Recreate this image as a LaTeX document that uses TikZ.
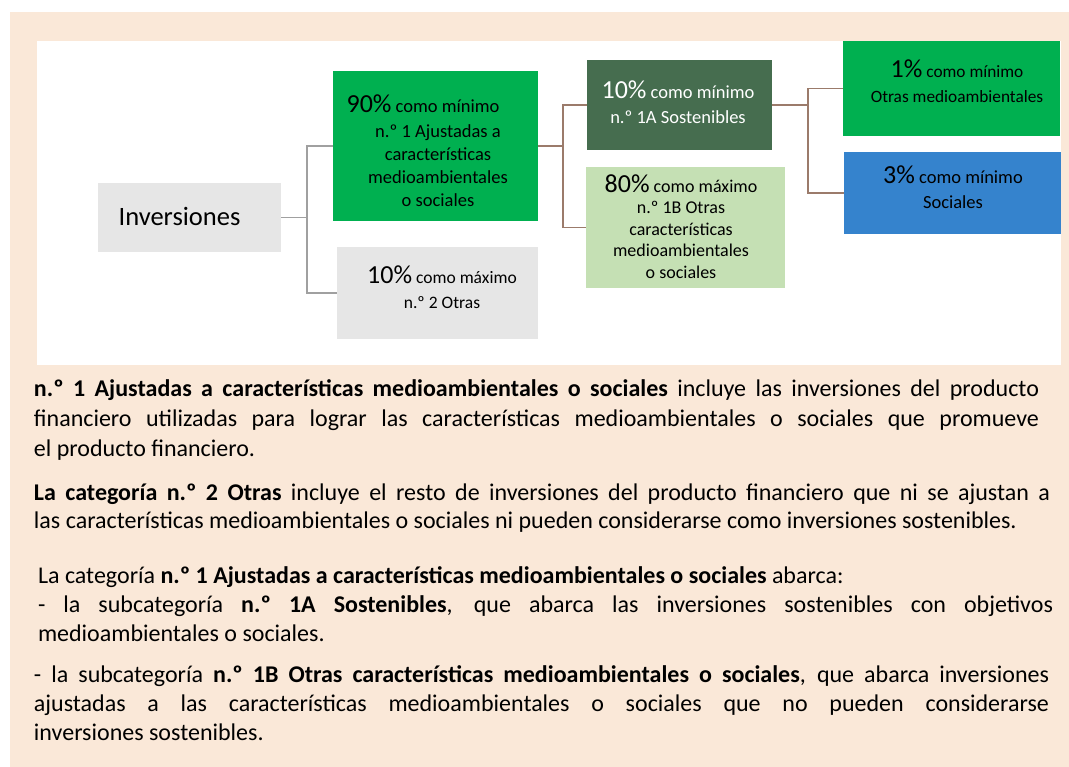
\documentclass[tikz,border=0pt]{standalone}
\usepackage{fontspec}
\setmainfont{Carlito}
\newcommand\bigpct[1]{{\fontsize{26}{26}\selectfont #1}}
\definecolor{beigebg}{HTML}{FAE8D8}
\definecolor{boxgray}{HTML}{E6E6E6}
\definecolor{boxgreen}{HTML}{00B050}
\definecolor{boxdark}{HTML}{466D4F}
\definecolor{boxlight}{HTML}{C5E0B4}
\definecolor{boxblue}{HTML}{3583CD}
\definecolor{conngray}{HTML}{A0A0A0}
\definecolor{connbrown}{HTML}{9B7B6B}
\begin{document}
\begin{tikzpicture}[x=1pt,y=-1pt,
  box/.style={inner sep=0pt, outer sep=0pt, draw=none},
  txt/.style={inner sep=0pt, outer sep=0pt, align=center, font=\fontsize{18.5}{23}\selectfont},
  conn/.style={line width=1.5pt},
  para/.style={anchor=base west, inner sep=0pt, outer sep=0pt}]
\useasboundingbox (0,0) rectangle (1069,767);
\fill[white] (0,0) rectangle (1069,767);
\fill[beigebg] (10,12) rectangle (1069,767);
\fill[white] (37,41) rectangle (1061,365);

% boxes
\node[box, fill=boxgray, minimum width=183pt, minimum height=69pt] (inv) at (189.5,217.5) {};
\node[box, fill=boxgreen, minimum width=205pt, minimum height=150pt] (p90) at (435.5,146) {};
\node[box, fill=boxgray, minimum width=201pt, minimum height=92pt] (p10max) at (437.5,293) {};
\node[box, fill=boxdark, minimum width=185pt, minimum height=90pt] (p10min) at (679.5,105) {};
\node[box, fill=boxlight, minimum width=199pt, minimum height=121pt] (p80) at (685.5,227.5) {};
\node[box, fill=boxgreen, minimum width=217pt, minimum height=95pt] (p1) at (951.5,88.5) {};
\node[box, fill=boxblue, minimum width=217pt, minimum height=82pt] (p3) at (952.5,193) {};

% texts
\node[txt, font=\fontsize{26.5}{30}\selectfont] (invt) at (179.5,216.5) {Inversiones};
\node[txt] (p90t) at (438,151) {\bigpct{90\%} como mínimo\hspace*{30pt}\\[2pt] n.º 1 Ajustadas a\\ características\\ medioambientales\\ o sociales};
\node[txt, font=\fontsize{17.5}{25}\selectfont] (p10maxt) at (442,287.5) {\bigpct{10\%} como máximo\\ n.º 2 Otras};
\node[txt, text=white, font=\fontsize{18.5}{25}\selectfont] (p10mint) at (678,102) {\bigpct{10\%} como mínimo\\ n.º 1A Sostenibles};
\node[txt, font=\fontsize{18}{21.5}\selectfont] (p80t) at (681,226.5) {\bigpct{80\%} como máximo\\ n.º 1B Otras\\ características\\ medioambientales\\ o sociales};
\node[txt, font=\fontsize{17.3}{25}\selectfont] (p1t) at (957,81.5) {\bigpct{1\%} como mínimo\\ Otras medioambientales};
\node[txt, font=\fontsize{18.5}{25}\selectfont] (p3t) at (953,187) {\bigpct{3\%} como mínimo\\ Sociales};

% connectors
\coordinate (j1) at (307,217.5);
\coordinate (j2) at (563,146);
\coordinate (j3) at (808,105);
\draw[conn, conngray] (inv.east) -- (j1);
\draw[conn, conngray] (j1) |- (p90.west);
\draw[conn, conngray] (j1) |- (p10max.west);
\draw[conn, connbrown] (p90.east) -- (j2);
\draw[conn, connbrown] (j2) |- (p10min.west);
\draw[conn, connbrown] (j2) |- (p80.west);
\draw[conn, connbrown] (p10min.east) -- (j3);
\draw[conn, connbrown] (j3) |- (p1.west);
\draw[conn, connbrown] (j3) |- (p3.west);

% paragraphs
\node[para] (para1) at (34,397) {\parbox[t]{1005pt}{\fontsize{24}{29.5}\selectfont
\makebox[\linewidth][s]{\textbf{n.º 1 Ajustadas a características medioambientales o sociales} incluye las inversiones del producto}\\
\makebox[\linewidth][s]{financiero utilizadas para lograr las características medioambientales o sociales que promueve}\\
el producto financiero.}};
\node[para] (para2) at (34,500) {\parbox[t]{1016pt}{\fontsize{24}{28.5}\selectfont
\makebox[\linewidth][s]{\textbf{La categoría n.º 2 Otras} incluye el resto de inversiones del producto financiero que ni se ajustan a}\\
las características medioambientales o sociales ni pueden considerarse como inversiones sostenibles.}};
\node[para] (para3) at (38,583) {\parbox[t]{1015pt}{\fontsize{24}{29}\selectfont
La categoría \textbf{n.º 1 Ajustadas a características medioambientales o sociales} abarca:\\
\makebox[\linewidth][s]{- la subcategoría \textbf{n.º 1A Sostenibles}, que abarca las inversiones sostenibles con objetivos}\\
medioambientales o sociales.}};
\node[para] (para4) at (34,682) {\parbox[t]{1015pt}{\fontsize{24}{29}\selectfont
\makebox[\linewidth][s]{- la subcategoría \textbf{n.º 1B Otras características medioambientales o sociales}, que abarca inversiones}\\
\makebox[\linewidth][s]{ajustadas a las características medioambientales o sociales que no pueden considerarse}\\
inversiones sostenibles.}};
\end{tikzpicture}
\end{document}
